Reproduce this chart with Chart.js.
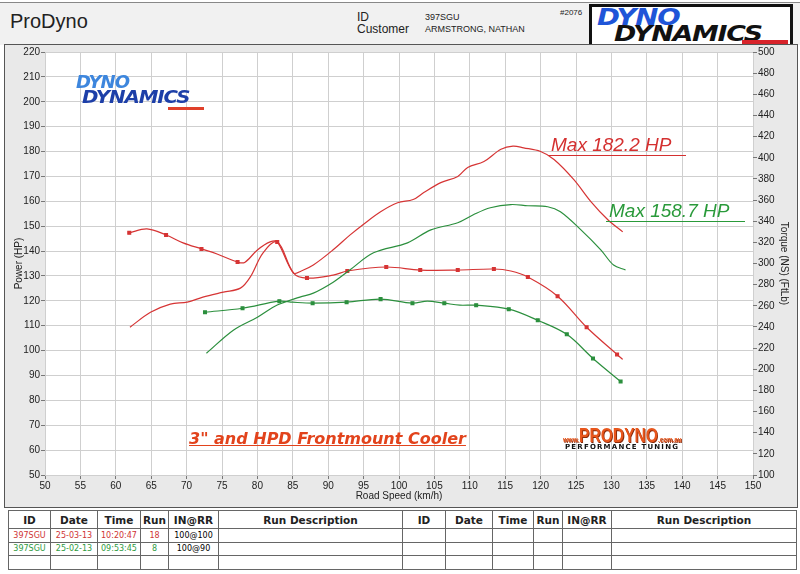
<!DOCTYPE html>
<html>
<head>
<meta charset="utf-8">
<script src="https://cdn.jsdelivr.net/npm/chart.js@4"></script>
<style>
  body { margin:0; width:800px; height:574px; background:#fff; font-family:"Liberation Sans", Arial, sans-serif; position:relative; overflow:hidden; }
  .abs { position:absolute; white-space:nowrap; }
  #header { position:absolute; left:0; top:2px; width:800px; height:42px; background:#f1f1f1; border-top:1px solid #888; }
  #panel { position:absolute; left:4px; top:44px; width:794px; height:464px; border:1px solid #555; box-sizing:border-box; background:#e9e9e9; }
  #wrap { position:absolute; left:0; top:0; width:792px; height:462px; }
  #logo { position:absolute; left:589px; top:4px; width:204px; height:44px; border:3px solid #111; box-sizing:border-box; background:#fff; overflow:hidden; }
  table { position:absolute; left:8px; top:510px; width:788px; border-collapse:collapse; table-layout:fixed; }
  td, th { border:1px solid #666; padding:0; text-align:center; overflow:hidden; white-space:nowrap; }
  th { font:bold 10.5px "DejaVu Sans", sans-serif; height:17px; color:#222; }
  td { font:8px "DejaVu Sans", sans-serif; height:12.5px; }
  .r td.c { color:#cf3434; }
  .g td.c { color:#2e9a3e; }
</style>
</head>
<body>
<div id="header"></div>
<div class="abs" style="left:10px;top:10px;font-size:20px;color:#222;">ProDyno</div>
<div class="abs" style="left:357px;top:10px;font-size:12px;color:#222;">ID</div>
<div class="abs" style="left:357px;top:22px;font-size:12px;color:#222;">Customer</div>
<div class="abs" style="left:425px;top:12px;font-size:9px;color:#222;">397SGU</div>
<div class="abs" style="left:425px;top:24px;font-size:9px;color:#222;">ARMSTRONG, NATHAN</div>
<div class="abs" style="left:560px;top:8px;font-size:8px;color:#222;">#2076</div>
<div id="logo">
  <div class="abs" style="left:5px;top:-3px;font:italic 900 23px 'DejaVu Sans', sans-serif;color:#1f55d8;letter-spacing:-1px;transform:scaleX(1.2);transform-origin:left;">DYNO</div>
  <div class="abs" style="left:22px;top:14px;font:italic 900 22px 'DejaVu Sans', sans-serif;color:#111;letter-spacing:-1px;transform:scaleX(1.22);transform-origin:left;">DYNAMICS</div>
  <div class="abs" style="left:150px;top:33px;width:46px;height:5px;background:#d8232a;"></div>
</div>

<div id="panel"><div id="wrap"><canvas id="dyno"></canvas></div></div>

<!-- annotations -->
<div class="abs" style="left:76px;top:71px;font:italic 900 18px 'DejaVu Sans', sans-serif;color:#3d86dd;letter-spacing:-1px;">DYNO</div>
<div class="abs" style="left:82px;top:86px;font:italic 900 18px 'DejaVu Sans', sans-serif;color:#1d3fa8;letter-spacing:-1px;transform:scaleX(1.1);transform-origin:left;">DYNAMICS</div>
<div class="abs" style="left:168px;top:107px;width:36px;height:3px;background:#e0402a;"></div>
<div class="abs" style="left:548px;top:135px;width:135px;font:italic 19px 'Liberation Sans', sans-serif;color:#d43030;border-bottom:1.5px solid #d43030;padding-left:3px;line-height:20px;">Max 182.2 HP</div>
<div class="abs" style="left:606px;top:200px;width:136px;font:italic 19px 'Liberation Sans', sans-serif;color:#2a9a3a;border-bottom:1.5px solid #2a9a3a;padding-left:3px;line-height:21px;">Max 158.7 HP</div>
<div class="abs" style="left:189px;top:429px;font:italic bold 16px 'DejaVu Sans', sans-serif;color:#e2431c;text-decoration:underline;">3" and HPD Frontmount Cooler</div>
<div class="abs" style="left:563px;top:424px;font:bold 20px 'Liberation Sans', sans-serif;color:#e8561c;transform:scaleX(0.78);transform-origin:left;text-shadow:1px 1px 0 #8a2a0a;"><span style="font-size:8px">www.</span>PRODYNO<span style="font-size:8px">.com.au</span></div>
<div class="abs" style="left:565px;top:443px;font:bold 7px 'DejaVu Sans', sans-serif;color:#111;letter-spacing:1.2px;">PERFORMANCE TUNING</div>

<table>
  <colgroup>
    <col style="width:42px"><col style="width:47px"><col style="width:43px"><col style="width:28px"><col style="width:50px"><col style="width:184px">
    <col style="width:43px"><col style="width:47px"><col style="width:41px"><col style="width:29px"><col style="width:49px"><col style="width:185px">
  </colgroup>
  <tr><th>ID</th><th>Date</th><th>Time</th><th>Run</th><th>IN@RR</th><th>Run Description</th><th>ID</th><th>Date</th><th>Time</th><th>Run</th><th>IN@RR</th><th>Run Description</th></tr>
  <tr class="r"><td class="c">397SGU</td><td class="c">25-03-13</td><td class="c">10:20:47</td><td class="c">18</td><td>100@100</td><td></td><td></td><td></td><td></td><td></td><td></td><td></td></tr>
  <tr class="g"><td class="c">397SGU</td><td class="c">25-02-13</td><td class="c">09:53:45</td><td class="c">8</td><td>100@90</td><td></td><td></td><td></td><td></td><td></td><td></td><td></td></tr>
  <tr><td></td><td></td><td></td><td></td><td></td><td></td><td></td><td></td><td></td><td></td><td></td><td></td></tr>
</table>

<script>
// run 18 (red) power, HP vs road speed km/h
const redPowerSpeed = [62.0, 64.9, 67.7, 70.1, 72.3, 75.2, 77.6, 79.0, 80.8, 82.8, 85.1, 86.2, 87.9, 90.7, 93.1, 95.0, 97.4, 99.8, 102.0, 103.5, 105.9, 108.3, 109.7, 112.0, 114.4, 116.1, 117.6, 120.0, 121.9, 124.7, 127.1, 129.5, 131.6];
const redPower      = [109.4, 115.4, 118.7, 119.5, 121.5, 123.5, 125.1, 129.6, 139.3, 143.7, 131.2, 132.0, 134.4, 140.5, 146.5, 150.8, 155.8, 159.4, 160.7, 163.5, 167.5, 170.0, 173.6, 176.0, 180.9, 182.2, 181.5, 180.0, 176.8, 168.7, 159.9, 152.6, 147.7];

// run 8 (green) power
const greenPowerSpeed = [72.8, 76.6, 80.0, 82.8, 86.0, 87.9, 90.7, 93.1, 96.4, 101.2, 104.5, 108.3, 110.5, 112.9, 115.8, 118.2, 121.0, 122.8, 125.7, 128.5, 130.3, 132.0];
const greenPower      = [98.9, 108.2, 113.4, 118.3, 121.5, 123.1, 127.5, 132.5, 139.3, 143.3, 148.5, 151.4, 154.6, 157.4, 158.7, 158.2, 157.8, 155.8, 148.5, 140.5, 134.4, 132.4];

// torque (ft-lb), right axis
const redTorqueSpeed = [61.9, 64.4, 67.1, 69.5, 72.1, 74.3, 77.2, 78.2, 80.0, 81.8, 82.8, 85.1, 87.0, 90.7, 92.7, 98.2, 103.0, 108.3, 113.4, 115.8, 118.2, 122.4, 126.5, 130.8, 131.6];
const redTorque      = [329.0, 332.8, 327.0, 319.5, 313.8, 309.0, 301.4, 301.0, 312.8, 320.4, 320.4, 291.0, 286.2, 289.0, 292.9, 296.7, 293.8, 293.8, 294.8, 292.9, 287.2, 269.1, 239.7, 214.0, 209.3];
const redTorqueMarks = [0, 2, 4, 6, 10, 12, 14, 15, 16, 17, 18, 20, 21, 22, 23];

const greenTorqueSpeed = [72.6, 77.9, 83.1, 85.0, 87.8, 92.6, 97.4, 101.9, 104.0, 106.4, 108.6, 110.9, 115.5, 119.6, 123.7, 127.4, 131.3];
const greenTorque      = [253.9, 257.7, 264.4, 263.4, 262.5, 263.4, 266.3, 262.5, 264.4, 262.5, 260.6, 260.6, 256.8, 246.3, 233.0, 210.2, 188.4];
const greenTorqueMarks = [0, 1, 2, 4, 5, 6, 7, 9, 11, 12, 13, 14, 15, 16];

const RED = '#d63434';
const GREEN = '#2b8f3d';

function pts(xs, ys) { return xs.map((x, i) => ({x: x, y: ys[i]})); }

const tickFont = {family: "'Liberation Sans Narrow', 'Liberation Sans', sans-serif", size: 10};
const titleFont = {family: "'Liberation Sans', Arial, sans-serif", size: 10};

const plotBg = {
  id: 'plotBg',
  beforeDraw(chart) {
    const a = chart.chartArea, c = chart.ctx;
    c.save();
    c.fillStyle = '#ffffff';
    c.fillRect(a.left, a.top, a.right - a.left, a.bottom - a.top);
    c.restore();
  }
};

new Chart(document.getElementById('dyno'), {
  type: 'line',
  data: {
    datasets: [
      {label: 'Power 18', data: pts(redPowerSpeed, redPower), yAxisID: 'y', borderColor: RED, borderWidth: 1.2, pointRadius: 0, tension: 0.35},
      {label: 'Power 8', data: pts(greenPowerSpeed, greenPower), yAxisID: 'y', borderColor: GREEN, borderWidth: 1.2, pointRadius: 0, tension: 0.35},
      {label: 'Torque 18', data: pts(redTorqueSpeed, redTorque), yAxisID: 'y2', borderColor: RED, backgroundColor: RED, borderWidth: 1.2, tension: 0.35,
        pointStyle: 'rect', pointRadius: ctx => redTorqueMarks.includes(ctx.dataIndex) ? 2 : 0},
      {label: 'Torque 8', data: pts(greenTorqueSpeed, greenTorque), yAxisID: 'y2', borderColor: GREEN, backgroundColor: GREEN, borderWidth: 1.2, tension: 0.35,
        pointStyle: 'rect', pointRadius: ctx => greenTorqueMarks.includes(ctx.dataIndex) ? 2 : 0}
    ]
  },
  options: {
    responsive: true,
    maintainAspectRatio: false,
    animation: false,
    layout: {padding: {top: 7, left: 0, right: 0, bottom: 0}},
    plugins: {legend: {display: false}, tooltip: {enabled: false}},
    scales: {
      x: {
        type: 'linear', min: 50, max: 150,
        ticks: {stepSize: 5, font: tickFont, color: '#222', padding: 1, maxRotation: 0},
        grid: {color: '#cfcfcf', tickColor: '#777', tickLength: 4},
        border: {display: false},
        title: {display: true, text: 'Road Speed (km/h)', font: titleFont, color: '#222', padding: {top: 0, bottom: 5}},
        afterFit: s => { s.height = 32; }
      },
      y: {
        position: 'left', min: 50, max: 220,
        ticks: {stepSize: 10, font: tickFont, color: '#222', padding: 1},
        grid: {color: '#cfcfcf', tickColor: '#777', tickLength: 4},
        border: {display: false},
        title: {display: true, text: 'Power (HP)', font: titleFont, color: '#222', padding: {top: 8, bottom: 0}},
        afterFit: s => { s.width = 40; }
      },
      y2: {
        position: 'right', min: 100, max: 500,
        ticks: {stepSize: 20, font: tickFont, color: '#222', padding: 1},
        grid: {drawOnChartArea: false, tickColor: '#777', tickLength: 4},
        border: {display: false},
        title: {display: true, text: 'Torque (NS) (FtLb)', font: titleFont, color: '#222', padding: {top: 7, bottom: 0}},
        afterFit: s => { s.width = 44; }
      }
    }
  },
  plugins: [plotBg]
});
</script>
</body>
</html>
